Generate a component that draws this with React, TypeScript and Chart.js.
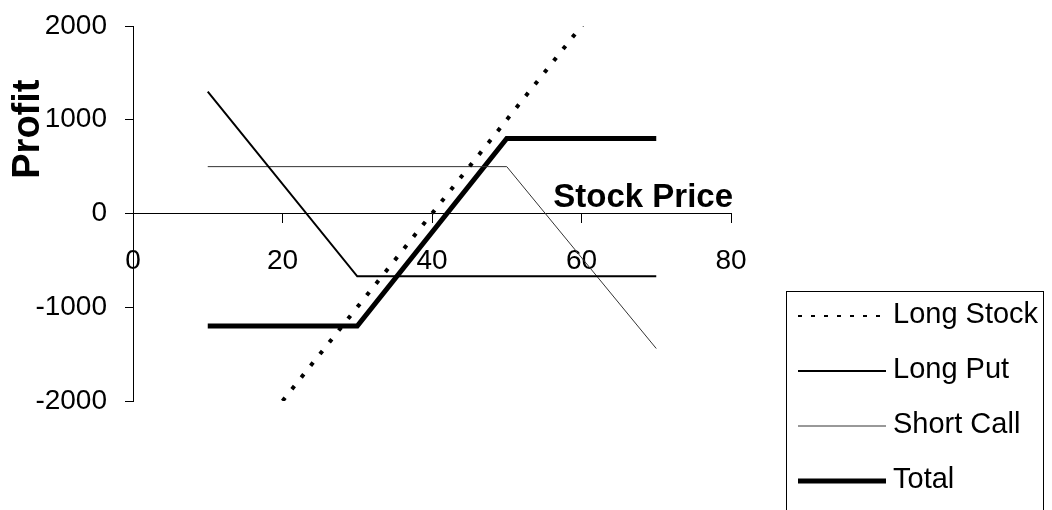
import React, { useEffect, useRef } from "react";
import { Chart, registerables } from "chart.js";

Chart.register(...registerables);

// ---- data ----
const seriesNames = ["Long Stock", "Long Put", "Short Call", "Total"];
const stockPriceStock = [10, 70];
const longStock = [-3000, 3000];
const stockPricePut = [10, 30, 70];
const longPut = [1300, -670, -670];
const stockPriceCall = [10, 50, 70];
const shortCall = [500, 500, -1440];
const stockPriceTotal = [10, 30, 50, 70];
const total = [-1200, -1200, 800, 800];
const xTickValues = [0, 20, 40, 60, 80];
const yTickValues = [-2000, -1000, 0, 1000, 2000];
const xTitle = "Stock Price";
const yTitle = "Profit";

const FONT = '"Liberation Sans", Arial, Helvetica, sans-serif';

const toPoints = (xs: number[], ys: number[]) => xs.map((x, i) => ({ x, y: ys[i] }));

const overlayPlugin = {
  id: "overlay",
  afterDraw(chart: any) {
    const ctx = chart.ctx as CanvasRenderingContext2D;
    const xs = chart.scales.x;
    const ys = chart.scales.y;
    ctx.save();
    ctx.fillStyle = "#000";
    // x axis title, right aligned at the end of the axis, above it
    ctx.font = `bold 33px ${FONT}`;
    ctx.textAlign = "right";
    ctx.textBaseline = "alphabetic";
    ctx.fillText(xTitle, xs.getPixelForValue(xTickValues[xTickValues.length - 1]) + 2, ys.getPixelForValue(0) - 7);
    ctx.restore();

    // y axis title, rotated
    ctx.save();
    ctx.fillStyle = "#000";
    ctx.translate(29, ys.getPixelForValue(900));
    ctx.rotate(-Math.PI / 2);
    ctx.font = `bold 38px ${FONT}`;
    ctx.textAlign = "center";
    ctx.textBaseline = "middle";
    ctx.fillText(yTitle, 0, 0);
    ctx.restore();

    // legend box
    ctx.save();
    const lx = 786;
    const ly = 291;
    const lw = 257;
    ctx.strokeStyle = "#000";
    ctx.lineWidth = 1;
    ctx.strokeRect(lx + 0.5, ly + 0.5, lw, 300);
    chart.data.datasets.forEach((ds: any, i: number) => {
      const base = 323 + i * 55;
      const dashed = ds.borderDash && ds.borderDash.length > 0;
      ctx.beginPath();
      ctx.setLineDash(dashed ? [4, 9] : []);
      ctx.lineWidth = dashed ? 2 : ds.borderWidth;
      ctx.strokeStyle = ds.borderColor;
      ctx.lineCap = "butt";
      ctx.moveTo(798, base - 7);
      ctx.lineTo(886, base - 7);
      ctx.stroke();
      ctx.setLineDash([]);
      ctx.fillStyle = "#000";
      ctx.font = `29px ${FONT}`;
      ctx.textAlign = "left";
      ctx.textBaseline = "alphabetic";
      ctx.fillText(ds.label, 893, base);
    });
    ctx.restore();
  },
};

const zeroPadding = (scale: any) => {
  scale.paddingTop = 0;
  scale.paddingBottom = 0;
  scale.paddingLeft = 0;
  scale.paddingRight = 0;
};

export default function App() {
  const canvasRef = useRef<HTMLCanvasElement | null>(null);

  useEffect(() => {
    if (!canvasRef.current) return;
    const chart = new Chart(canvasRef.current, {
      type: "line",
      data: {
        datasets: [
          {
            label: seriesNames[0],
            data: toPoints(stockPriceStock, longStock),
            borderColor: "#000",
            borderWidth: 4,
            borderDash: [4, 11],
            pointRadius: 0,
          },
          {
            label: seriesNames[1],
            data: toPoints(stockPricePut, longPut),
            borderColor: "#000",
            borderWidth: 2,
            pointRadius: 0,
          },
          {
            label: seriesNames[2],
            data: toPoints(stockPriceCall, shortCall),
            borderColor: "#333",
            borderWidth: 1,
            pointRadius: 0,
          },
          {
            label: seriesNames[3],
            data: toPoints(stockPriceTotal, total),
            borderColor: "#000",
            borderWidth: 5,
            pointRadius: 0,
          },
        ],
      },
      options: {
        animation: false,
        responsive: false,
        layout: { padding: { left: 0, top: 26, right: 321, bottom: 109 } },
        plugins: {
          legend: { display: false },
          tooltip: { enabled: false },
        },
        elements: { line: { tension: 0 }, point: { radius: 0 } },
        scales: {
          x: {
            type: "linear",
            min: xTickValues[0],
            max: xTickValues[xTickValues.length - 1],
            position: { y: 0 } as any,
            ticks: {
              stepSize: xTickValues[1] - xTickValues[0],
              color: "#000",
              font: { family: FONT, size: 28 },
              padding: 22,
              maxRotation: 0,
              autoSkip: false,
              callback: (v: any) => String(v),
            },
            grid: { drawOnChartArea: false, tickLength: 9, color: "#000" },
            border: { color: "#000", width: 1 },
            afterFit: zeroPadding,
          },
          y: {
            type: "linear",
            position: "left",
            min: yTickValues[0],
            max: yTickValues[yTickValues.length - 1],
            ticks: {
              stepSize: yTickValues[1] - yTickValues[0],
              color: "#000",
              font: { family: FONT, size: 28 },
              padding: 18,
              callback: (v: any) => String(v),
            },
            grid: { drawOnChartArea: false, tickLength: 8, color: "#000" },
            border: { color: "#000", width: 1 },
            afterFit: (scale: any) => {
              zeroPadding(scale);
              scale.width = 133;
            },
          },
        },
      },
      plugins: [overlayPlugin],
    });
    return () => chart.destroy();
  }, []);

  return (
    <div style={{ position: "absolute", left: 0, top: 0, width: 1052, height: 510, background: "#fff" }}>
      <canvas ref={canvasRef} width={1052} height={510} style={{ display: "block" }} />
    </div>
  );
}
